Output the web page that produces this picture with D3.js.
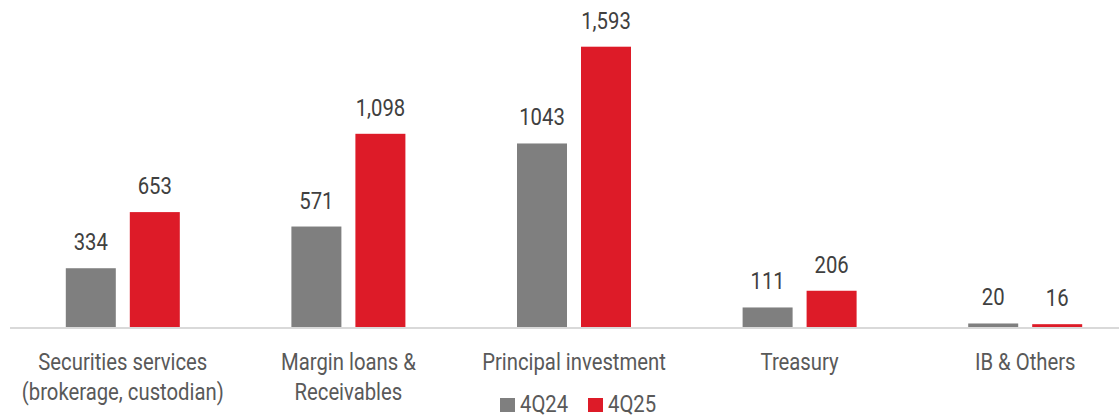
<!DOCTYPE html>
<html><head><meta charset="utf-8">
<script src="https://cdn.jsdelivr.net/npm/d3@7/dist/d3.min.js"></script>
<style>
html,body{margin:0;padding:0;background:#fff;}
svg{display:block;}
text{font-family:Roboto,"Liberation Sans",sans-serif;}
</style></head>
<body>
<svg id="chart" width="1119" height="416"></svg>
<script>
const categories = [["Securities services","(brokerage, custodian)"],["Margin loans &","Receivables"],["Principal investment"],["Treasury"],["IB & Others"]];
const seriesNames = ["4Q24","4Q25"];
const values4Q24 = [334, 571, 1043, 111, 20];
const values4Q25 = [653, 1098, 1593, 206, 16];
const labels4Q24 = ["334","571","1043","111","20"];
const labels4Q25 = ["653","1,098","1,593","206","16"];
const colors = ["#7f7f7f","#dd1b28"];

const SX = 0.845; // condensed look
const FS = 24;
const svg = d3.select("#chart");
const W = 1119, base = 327;
const x = d3.scaleBand().domain(d3.range(categories.length)).range([10, 1138]);
const half = x.bandwidth() / 2;
const xs = d3.scaleBand().domain([0,1]).range([half - 57, half + 57]).paddingInner(14/64).paddingOuter(0);
const y = d3.scaleLinear().domain([0, 1593]).range([base, 46.7]);

const series = [values4Q24, values4Q25];
const labels = [labels4Q24, labels4Q25];

function ctext(parent, cx, cy, str, size, fill, anchor) {
  const g = parent.append("g").attr("transform", `translate(${cx},${cy}) scale(${SX},1)`);
  return g.append("text").attr("x", 0).attr("y", 0)
    .attr("text-anchor", anchor || "middle").attr("font-size", size).attr("fill", fill).text(str);
}

// axis line
svg.append("line").attr("x1", 10).attr("x2", W).attr("y1", base + 1).attr("y2", base + 1)
  .attr("stroke", "#d9d9d9").attr("stroke-width", 2);

series.forEach((vals, si) => {
  const g = svg.append("g");
  g.selectAll("rect").data(vals).join("rect")
    .attr("x", (d, i) => x(i) + xs(si))
    .attr("width", xs.bandwidth())
    .attr("y", d => y(d))
    .attr("height", d => base - y(d))
    .attr("fill", colors[si]);
  vals.forEach((d, i) => {
    ctext(svg, x(i) + xs(si) + xs.bandwidth() / 2, y(d) - 18, labels[si][i], FS, "#404040");
  });
});

// category labels
categories.forEach((lines, i) => {
  lines.forEach((ln, j) => {
    ctext(svg, x(i) + half, 370 + j * 30, ln, FS, "#595959");
  });
});

// legend
const legX = [500, 588];
seriesNames.forEach((n, i) => {
  svg.append("rect").attr("x", legX[i]).attr("y", 398).attr("width", 15).attr("height", 14).attr("fill", colors[i]);
  ctext(svg, legX[i] + 20, 412, n, FS, "#595959", "start");
});
</script>
</body></html>
